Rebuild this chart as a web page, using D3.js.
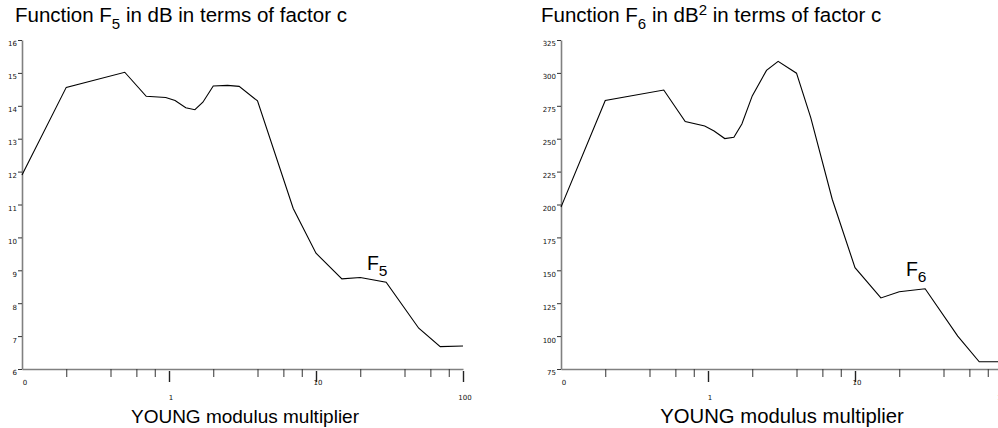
<!DOCTYPE html>
<html><head><meta charset="utf-8">
<script src="https://cdn.jsdelivr.net/npm/d3@7"></script>
<style>
html,body{margin:0;padding:0;background:#fff;overflow:hidden;}
svg{display:block;}
</style></head>
<body>
<svg id="chart" width="998" height="428"></svg>
<script>
// ---- data ----
const xF5 = [0.1,0.2,0.5,0.7,0.95,1.1,1.3,1.5,1.7,2,2.5,3,4,7,10,15,20,30,50,70,100];
const f5  = [11.9,14.56,15.02,14.29,14.25,14.16,13.94,13.88,14.11,14.6,14.62,14.59,14.15,10.88,9.52,8.74,8.78,8.64,7.24,6.68,6.7];
const xF6 = [0.1,0.2,0.5,0.7,0.95,1.1,1.3,1.5,1.7,2,2.5,3,4,5,7,10,15,20,30,50,70,100];
const f6  = [198,279,287,263,259.7,255.9,250.1,251.1,261.2,282.5,301.9,308.8,299.8,266,204,152,129,133.7,136,100,80.5,80.5];
const xTicks = [0.1,0.2,0.4,0.6,0.8,1,2,4,6,8,10,20,40,60,80,100];
const xMajor = [1,10,100];
const xLabels = [{v:0.1,t:"0",low:false},{v:1,t:"1",low:true},{v:10,t:"10",low:false},{v:100,t:"100",low:true}];
const yTicksF5 = [6,7,8,9,10,11,12,13,14,15,16];
const yTicksF6 = [75,100,125,150,175,200,225,250,275,300,325];

const svg = d3.select("#chart");
const TXT = "'Liberation Sans', Arial, Helvetica, sans-serif";
const TICKFONT = "'DejaVu Sans', sans-serif";

function panel(opts){
  const g = svg.append("g");
  const x = d3.scaleLog().domain([0.1,100]).range([opts.x0, opts.x0 + 441]);
  const y = d3.scaleLinear().domain(opts.yDomain).range([369, 40]);

  // title
  const t = g.append("text").attr("x", opts.titleX).attr("y", 22)
    .attr("font-family", TXT).attr("font-size", 20.5).attr("fill", "#000");
  t.append("tspan").text("Function F");
  t.append("tspan").attr("font-size", 15).attr("dy", 7).text(opts.sub);
  if (opts.sup) {
    t.append("tspan").attr("dy", -7).text(" in dB");
    t.append("tspan").attr("font-size", 15).attr("dy", -7).text("2");
    t.append("tspan").attr("dy", 7).text(" in terms of factor c");
  } else {
    t.append("tspan").attr("dy", -7).text(" in dB in terms of factor c");
  }

  // y axis
  const ya = g.append("g").attr("transform", `translate(${opts.x0},0)`)
    .call(d3.axisLeft(y).tickValues(opts.yTicks).tickSize(4).tickSizeOuter(0).tickFormat(d3.format("d")));
  ya.select(".domain").attr("stroke", "#808080").attr("stroke-width", 1.6);
  ya.selectAll(".tick line").attr("stroke", "#333");
  ya.selectAll(".tick text").attr("font-family", TICKFONT).attr("font-size", 7)
    .attr("fill", "#111").attr("x", -5).attr("dy", "0.85em");

  // x axis (minor ticks)
  const xa = g.append("g").attr("transform", `translate(0,369)`)
    .call(d3.axisBottom(x).tickValues(xTicks.filter(v => v !== 0.1 && !xMajor.includes(v))).tickSize(8).tickSizeOuter(0).tickFormat(""));
  xa.select(".domain").attr("stroke", "#808080").attr("stroke-width", 1.6);
  xa.selectAll(".tick line").attr("stroke", "#333");
  // major ticks
  const xm = g.append("g").attr("transform", `translate(0,371)`)
    .call(d3.axisBottom(x).tickValues(xMajor).tickSize(11).tickSizeOuter(0).tickFormat(""));
  xm.select(".domain").remove();
  xm.selectAll(".tick line").attr("stroke", "#222").attr("stroke-width", 1.4);

  // x labels
  g.selectAll("text.xl").data(xLabels).join("text").attr("class", "xl")
    .attr("x", d => x(d.v) + (d.v === 0.1 ? 3 : 2))
    .attr("y", d => d.low ? 400 : 385)
    .attr("text-anchor", "middle")
    .attr("font-family", TICKFONT).attr("font-size", 7).attr("fill", "#111")
    .text(d => d.t);

  // x axis title
  g.append("text").attr("x", opts.xtX).attr("y", 423).attr("text-anchor", "middle")
    .attr("font-family", TXT).attr("font-size", opts.xtSize).attr("fill", "#000")
    .text("YOUNG modulus multiplier");

  // line
  const pts = opts.xs.map((v, i) => [v, opts.ys[i]]);
  g.append("path").datum(pts)
    .attr("fill", "none").attr("stroke", "#000").attr("stroke-width", 1.1)
    .attr("d", d3.line().x(d => x(d[0])).y(d => y(d[1])));

  // curve label
  const lab = g.append("text").attr("x", x(opts.labX)).attr("y", y(opts.labY))
    .attr("font-family", TXT).attr("font-size", 19.5).attr("fill", "#000");
  lab.append("tspan").text("F");
  lab.append("tspan").attr("font-size", 15.5).attr("dy", 6).text(opts.sub);
}

panel({x0: 22, yDomain: [6,16], yTicks: yTicksF5, xs: xF5, ys: f5, sub: "5", sup: false, titleX: 15, labX: 22.2, labY: 9.0, xtX: 245, xtSize: 19});
panel({x0: 561, yDomain: [75,325], yTicks: yTicksF6, xs: xF6, ys: f6, sub: "6", sup: true, titleX: 541, labX: 22.2, labY: 146, xtX: 782, xtSize: 20.3});
</script>
</body></html>
